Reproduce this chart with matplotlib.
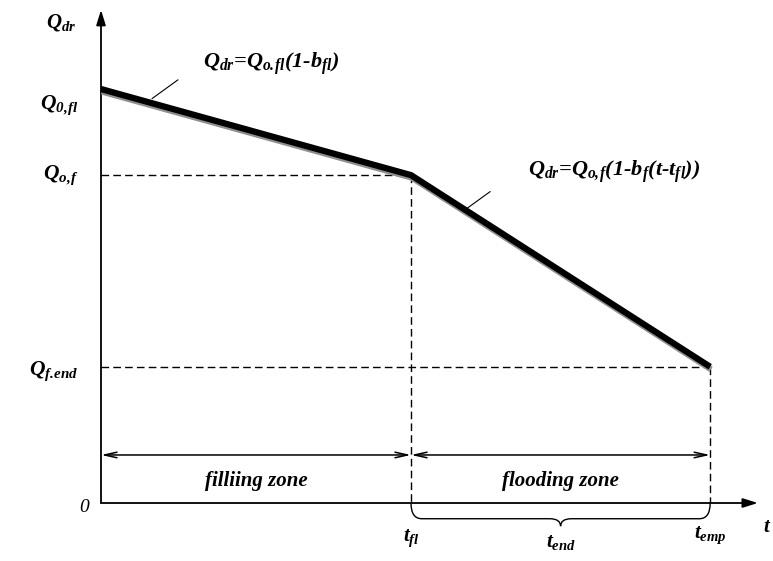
import matplotlib
matplotlib.use("Agg")
import matplotlib.pyplot as plt
from matplotlib.path import Path
from matplotlib.patches import PathPatch
import matplotlib.patheffects as pe

plt.rcParams['mathtext.fontset'] = 'custom'
plt.rcParams['mathtext.rm'] = 'Liberation Serif:italic:bold'
plt.rcParams['mathtext.it'] = 'Liberation Serif:italic:bold'
plt.rcParams['mathtext.bf'] = 'Liberation Serif:italic:bold'
plt.rcParams['font.family'] = ['Liberation Serif', 'DejaVu Serif']
plt.rcParams['font.weight'] = 'bold'
plt.rcParams['font.style'] = 'italic'

# ---- data (schematic) ----
t_points = [0.0, 1.0, 1.965]        # 0, t_fl, t_emp
Q_points = [1.0, 0.792, 0.329]      # Q_0,fl, Q_o,f, Q_f,end
t_tick_labels = [r'$t_{fl}$', r'$t_{end}$', r'$t_{emp}$']
Q_tick_labels = [r'$Q_{0,\!fl}$', r'$Q_{o,\!f}$', r'$Q_{f.\!end}$']
zone_labels = ['filliing zone', 'flooding zone']
formula_labels = [r'$Q_{dr}$=$Q_{o.\!fl}$(1-$b_{fl}$)', r'$Q_{dr}$=$Q_{o,\!f}$(1-$b_f$(t-$t_{fl}$))']
zone_arrow_level = 0.116

W, H = 773, 561
fig = plt.figure(figsize=(W / 100, H / 100), dpi=100)
ax = fig.add_axes([0, 0, 1, 1])
ax.set_xlim(-0.3258, 2.1677)
ax.set_ylim(-0.1401, 1.2150)
ax.axis('off')

TXT = dict(fontweight='bold', fontstyle='italic', color='black')

# axes with arrows
ax.annotate('', xy=(0, 1.191), xytext=(0, 0),
            arrowprops=dict(arrowstyle='-|>,head_length=0.9,head_width=0.28', lw=1.3,
                            color='black', shrinkA=0, shrinkB=0))
ax.annotate('', xy=(2.119, 0), xytext=(0, 0),
            arrowprops=dict(arrowstyle='-|>,head_length=0.9,head_width=0.28', lw=1.3,
                            color='black', shrinkA=0, shrinkB=0))

# main thick line with grey shadow
ax.plot(t_points, Q_points, color='black', lw=4.5, solid_capstyle='butt',
        solid_joinstyle='miter', zorder=5,
        path_effects=[pe.SimpleLineShadow(offset=(0.6, -1.8), shadow_color='#8f8f8f', alpha=1.0),
                      pe.Normal()])

# dashed guide lines
for t, q in zip(t_points[1:], Q_points[1:]):
    ax.plot([0, t], [q, q], color='black', lw=1.0, dashes=(5.5, 3), zorder=2)
    ax.plot([t, t], [q, 0], color='black', lw=1.0, dashes=(5.5, 3), zorder=2)

# zone double arrows
for a, b, lab in zip(t_points[:-1], t_points[1:], zone_labels):
    ax.annotate('', xy=(b, zone_arrow_level), xytext=(a, zone_arrow_level),
                arrowprops=dict(arrowstyle='<->,head_length=0.9,head_width=0.2', lw=1.1,
                                color='black', shrinkA=0, shrinkB=0))
    ax.text((a + b) / 2, 0.054, lab, ha='center', va='center', fontsize=15, **TXT)

# curly brace under axis from t_fl to t_emp
x1, x2 = t_points[1], t_points[2]
xm = (x1 + x2) / 2
h, d, ex = 0.038, 0.018, 0.035
verts = [(x1, 0), (x1, -h), (x1 + ex, -h), (xm - ex, -h), (xm, -h), (xm, -h - d),
         (xm, -h), (xm + ex, -h), (x2 - ex, -h), (x2, -h), (x2, 0)]
codes = [Path.MOVETO, Path.CURVE3, Path.CURVE3, Path.LINETO, Path.CURVE3, Path.CURVE3,
         Path.CURVE3, Path.CURVE3, Path.LINETO, Path.CURVE3, Path.CURVE3]
ax.add_patch(PathPatch(Path(verts, codes), fill=False, lw=1.0, color='black'))

# Q labels on the y axis
for q, lab in zip(Q_points, Q_tick_labels):
    dy = -12 if q == Q_points[0] else (0 if q == Q_points[1] else -3)
    ax.annotate(lab, xy=(0, q), xytext=(-16, dy), textcoords='offset points',
                ha='right', va='center', fontsize=15.5, **TXT)

# t labels under the x axis
for t, lab, ly in zip([t_points[1], xm, t_points[2]], t_tick_labels, [-0.085, -0.095, -0.078]):
    ax.text(t, ly, lab, ha='center', va='center', fontsize=15, **TXT)

# origin and axis labels
ax.text(-0.04, -0.012, '0', ha='right', va='center', fontsize=14, fontstyle='italic',
        fontweight='normal')
ax.text(-0.13, 1.160, r'$Q_{dr}$', ha='center', va='center', fontsize=15, **TXT)
ax.text(2.135, -0.058, r'$t$', ha='left', va='center', fontsize=15, **TXT)

# formulas with leader lines
seg1 = (0.165, 0.977), (0.248, 1.022)
seg2 = (1.183, 0.713), (1.255, 0.752)
ax.plot([seg1[0][0], seg1[1][0]], [seg1[0][1], seg1[1][1]], color='black', lw=0.8)
ax.plot([seg2[0][0], seg2[1][0]], [seg2[0][1], seg2[1][1]], color='black', lw=0.8)
ax.text(0.330, 1.060, formula_labels[0], ha='left', va='center', fontsize=16, **TXT)
ax.text(1.378, 0.800, formula_labels[1], ha='left', va='center', fontsize=16, **TXT)

fig.savefig('out.png', dpi=100)
